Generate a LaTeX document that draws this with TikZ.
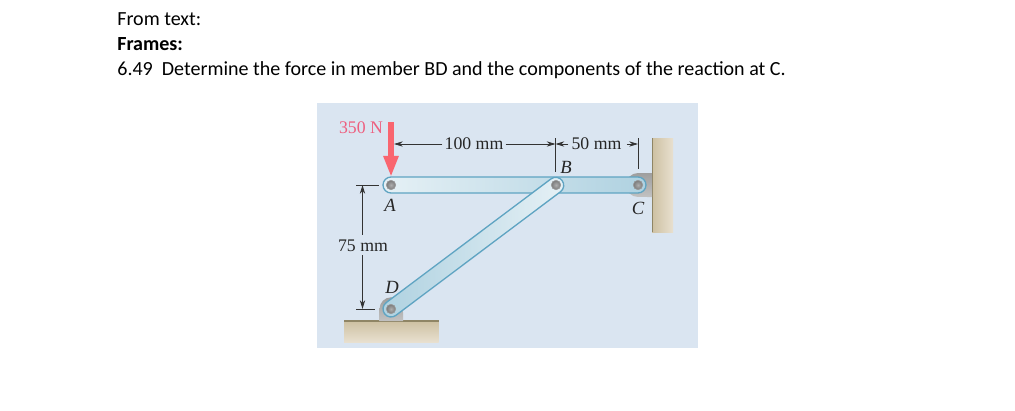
\documentclass[tikz,border=0pt]{standalone}
\usepackage{fontspec}
\setmainfont{Liberation Serif}
\newfontfamily\headfont{Carlito}
\usetikzlibrary{arrows.meta}
\definecolor{panelblue}{HTML}{DAE5F1}
\definecolor{linkedge}{HTML}{5FA4C2}
\definecolor{loadred}{HTML}{F9656F}
\definecolor{labelred}{HTML}{EE5F7F}
\definecolor{sandedge}{HTML}{8F8565}
\definecolor{sanddark}{HTML}{CDC0A2}
\definecolor{sandlight}{HTML}{E8E0CF}
\tikzset{
    headtext/.style={anchor=base west, inner sep=0pt, font=\headfont\fontsize{11.4}{13}\selectfont},
    dimtext/.style={inner sep=0pt, font=\fontsize{10.1}{12}\selectfont, text=black!85},
    pointtext/.style={inner sep=0pt, font=\fontsize{10.6}{12}\selectfont\itshape, text=black!85},
    dimline/.style={draw=black!80, line width=0.45pt},
    dimarrow/.style={dimline, -{Stealth[length=5pt, width=3pt]}},
    link/.style={draw=linkedge, line width=0.75pt},
    pin/.style={draw=black!40, line width=0.3pt, inner color=black!32, outer color=black!52},
    mount/.style={top color=black!38, bottom color=black!24}
}
% one member of the frame, from its left end along the given angle
\newcommand{\drawlink}[5]{
    \begin{scope}[shift={#1}, rotate=#2]
        \draw[link, left color=#4, middle color=#5!50!#4, right color=#5]
        (0,8) -- (#3,8) arc[start angle=90, end angle=-90, radius=0.16cm]
        -- (0,-8) arc[start angle=-90, end angle=-270, radius=0.16cm] -- cycle;
    \end{scope}
}

\begin{document}
\begin{tikzpicture}[x=0.02cm, y=0.02cm]
        \useasboundingbox (0,0) rectangle (1015,410);
        \fill[white] (0,0) rectangle (1015,410);
        \node[headtext] (from) at (117,384) {From text:};
        \node[headtext] (frames) at (117,359) {\bfseries Frames:};
        \node[headtext] (prob) at (117,335) {6.49\hspace{0.45em}Determine the force in member BD and the components of the reaction at C.};

        \fill[panelblue] (317,62) rectangle (698,307);

        \coordinate (A) at (391,225);
        \coordinate (B) at (556,225);
        \coordinate (C) at (638,225);
        \coordinate (D) at (391,101);

        % supports
        \shade[left color=sanddark, right color=sandlight] (652,178) rectangle (673,272);
        \draw[sandedge, line width=0.8pt] (652.5,178) -- (652.5,272);
        \shade[top color=sanddark, bottom color=sandlight] (344,68) rectangle (438.5,89);
        \draw[sandedge, line width=0.8pt] (344,89) -- (438.5,89);
        \shade[mount] (652,237) -- (638,237) arc[start angle=90, end angle=270, radius=0.24cm] -- (652,213) -- cycle;
        \shade[mount] (379.5,89) -- (379.5,101) arc[start angle=180, end angle=0, radius=0.235cm] -- (403,89) -- cycle;

        % members
        \drawlink{(A)}{0}{247}{linkedge!16!white}{linkedge!50!white}
        \drawlink{(D)}{36.9}{206}{linkedge!50!white}{linkedge!16!white}

        \foreach \p in {A,B,C,D}
            \shade[pin] (\p) circle (0.095cm);

        % load
        \coordinate (loadtop) at (391,288);
        \coordinate (loadtip) at (391,233);
        \draw[loadred, line width=3pt, -{Triangle[length=12pt, width=8pt]}] (loadtop) -- (loadtip);
        \node[dimtext, text=labelred] (load) at (361,282) {350 N};

        % dimensions
        \node[dimtext] (dimab) at (474,266.5) {100 mm};
        \node[dimtext] (dimbc) at (596.5,266.5) {50 mm};
        \node[dimtext] (dimad) at (363,164) {75 mm};
        \coordinate (tickBt) at (555.5,272);
        \coordinate (tickBb) at (555.5,238);
        \coordinate (tickCt) at (638,272);
        \coordinate (tickCb) at (638,241);
        \coordinate (tickAl) at (356,225);
        \coordinate (tickAr) at (379,225);
        \coordinate (tickDl) at (356,101);
        \coordinate (tickDr) at (375,101);
        \coordinate (endab) at (394,266);
        \coordinate (endb) at (555.5,266);
        \coordinate (endc) at (638,266);
        \coordinate (enda) at (362.5,225);
        \coordinate (endd) at (362.5,101);
        \draw[dimline] (tickBt) -- (tickBb);
        \draw[dimline] (tickCt) -- (tickCb);
        \draw[dimline] (tickAl) -- (tickAr);
        \draw[dimline] (tickDl) -- (tickDr);
        \draw[dimarrow] (dimab.west |- endab) ++(-2,0) -- (endab);
        \draw[dimarrow] (dimab.east |- endb) ++(2,0) -- (endb);
        \draw[dimarrow] (dimbc.west |- endb) ++(-3,0) -- (endb);
        \draw[dimarrow] (dimbc.east |- endc) ++(5,0) -- (endc);
        \draw[dimarrow] (dimad.north -| enda) ++(0,5) -- (enda);
        \draw[dimarrow] (dimad.south -| endd) ++(0,-3) -- (endd);

        \node[pointtext] (labA) at (390,205) {A};
        \node[pointtext] (labB) at (566,243) {B};
        \node[pointtext] (labC) at (638,202) {C};
        \node[pointtext] (labD) at (392,123) {D};
    \end{tikzpicture}
\end{document}
